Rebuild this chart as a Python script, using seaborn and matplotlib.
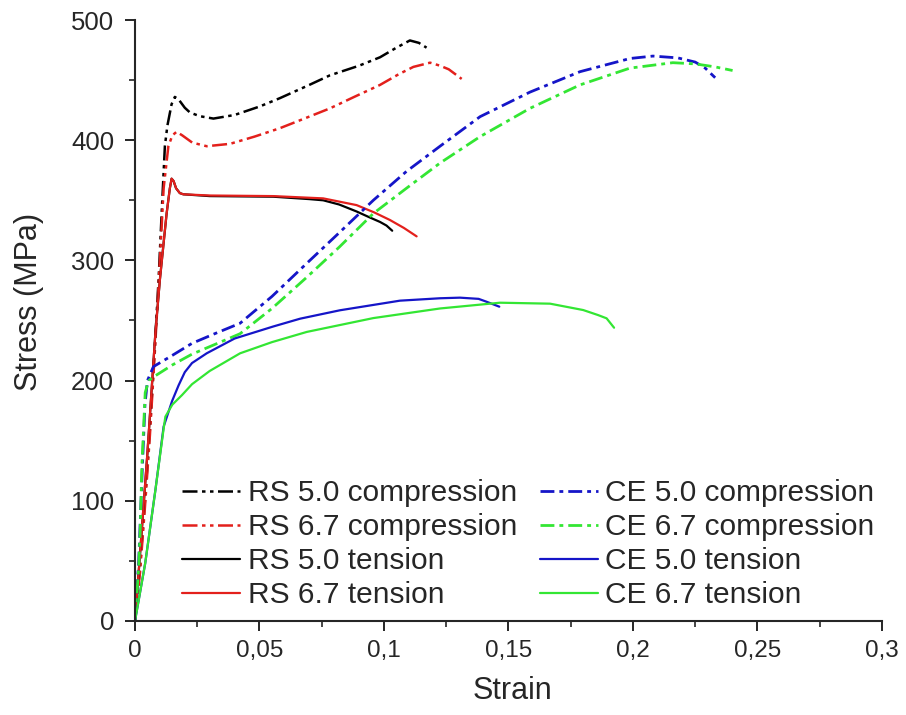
import numpy as np
import pandas as pd
import matplotlib
matplotlib.use("Agg")
import matplotlib.pyplot as plt
import seaborn as sns

# ---------------- data ----------------
rs50c_x = [0, 0.002, 0.004, 0.006, 0.008, 0.0095, 0.0107, 0.0120, 0.0130, 0.0147, 0.0160, 0.0175,
           0.0200, 0.0221, 0.0260, 0.0315, 0.0400, 0.0500, 0.0582, 0.0700, 0.0783, 0.0900, 0.0984,
           0.1050, 0.1104, 0.1140, 0.1171]
rs50c_y = [0, 45, 100, 160, 230, 285, 339, 395, 412, 430, 436, 434,
           427, 423, 420, 418, 421, 428, 435, 446, 454, 462, 469,
           477, 483, 481, 477]

rs67c_x = [0, 0.002, 0.004, 0.006, 0.008, 0.0100, 0.0115, 0.0134, 0.0150, 0.0167, 0.0190, 0.0230,
           0.0288, 0.0382, 0.0480, 0.0582, 0.0680, 0.0783, 0.0880, 0.0984, 0.1060, 0.1118, 0.1185,
           0.1225, 0.1260, 0.1312]
rs67c_y = [0, 40, 95, 155, 225, 300, 360, 395, 404, 407, 404, 398,
           395, 397, 403, 410, 418, 426.5, 436, 446, 455, 461, 464.5,
           462, 459, 451]

rs50t_x = [0, 0.002, 0.005, 0.0082, 0.0100, 0.0127, 0.0140, 0.0147, 0.0155, 0.0165, 0.0180, 0.0194,
           0.0300, 0.0555, 0.0700, 0.0756, 0.0820, 0.0890, 0.0940, 0.0984, 0.1010, 0.1033]
rs50t_y = [0, 55, 140, 240, 284, 339, 360, 368, 366, 360, 356, 355,
           353.5, 353, 351, 350, 346.5, 340.7, 336, 332, 329, 324.7]

rs67t_x = [0, 0.002, 0.005, 0.0082, 0.0100, 0.0127, 0.0140, 0.0147, 0.0155, 0.0165, 0.0180, 0.0194,
           0.0300, 0.0555, 0.0756, 0.0890, 0.0960, 0.1024, 0.1080, 0.1131]
rs67t_y = [0, 55, 140, 240, 284, 339, 360, 368, 366, 360, 356, 355,
           354, 353.5, 351.6, 346, 340, 333.6, 327, 320]

ce50c_x = [0, 0.0015, 0.0028, 0.0040, 0.0050, 0.0074, 0.0150, 0.0229, 0.0320, 0.0422, 0.0550, 0.0690,
           0.0820, 0.0957, 0.1090, 0.1225, 0.1386, 0.1586, 0.1787, 0.1988, 0.2080, 0.2180, 0.2250,
           0.2290, 0.2330]
ce50c_y = [0, 50, 120, 180, 200, 211.6, 221, 231, 239, 247.7, 270, 297.6,
           323, 350, 374, 395, 419.6, 440, 457, 468, 470, 468.5, 465,
           460, 452]

ce67c_x = [0, 0.0015, 0.0021, 0.0028, 0.0041, 0.0055, 0.0074, 0.0150, 0.0229, 0.0320, 0.0422, 0.0550,
           0.0690, 0.0820, 0.0957, 0.1090, 0.1225, 0.1386, 0.1586, 0.1787, 0.1988, 0.2160, 0.2250,
           0.2330, 0.2400]
ce67c_y = [0, 45, 76, 131, 190, 200, 203, 213, 222, 230, 239, 260,
           286, 311, 339, 360, 381, 403, 426.5, 446, 460, 464.5, 463.5,
           461, 458]

ce50t_x = [0, 0.0041, 0.0082, 0.0115, 0.0149, 0.0175, 0.0200, 0.0229, 0.0288, 0.0400, 0.0555, 0.0663,
           0.0823, 0.1064, 0.1225, 0.1305, 0.1380, 0.1412, 0.1463]
ce50t_y = [0, 48, 109, 161.7, 183, 196, 207, 214.6, 222.7, 235, 245, 251.5,
           258.5, 266.5, 268.5, 269, 268, 265.6, 261.5]

ce67t_x = [0, 0.0041, 0.0082, 0.0115, 0.0122, 0.0150, 0.0189, 0.0229, 0.0300, 0.0422, 0.0550, 0.0690,
           0.0957, 0.1225, 0.1466, 0.1667, 0.1800, 0.1860, 0.1894, 0.1924]
ce67t_y = [0, 48, 109, 160, 170, 180, 188, 197, 208, 222.7, 232, 240.5,
           252, 260, 264.8, 264, 258.7, 254.5, 251.8, 244]

labels = ["RS 5.0 compression", "RS 6.7 compression", "RS 5.0 tension", "RS 6.7 tension",
          "CE 5.0 compression", "CE 6.7 compression", "CE 5.0 tension", "CE 6.7 tension"]
xtick_vals = [0, 0.05, 0.1, 0.15, 0.2, 0.25, 0.3]
xtick_labels = ["0", "0,05", "0,1", "0,15", "0,2", "0,25", "0,3"]
ytick_vals = [0, 100, 200, 300, 400, 500]

series = [
    (rs50c_x, rs50c_y), (rs67c_x, rs67c_y), (rs50t_x, rs50t_y), (rs67t_x, rs67t_y),
    (ce50c_x, ce50c_y), (ce67c_x, ce67c_y), (ce50t_x, ce50t_y), (ce67t_x, ce67t_y),
]

# ---------------- styling ----------------
colors = ["#000000", "#e3201c", "#000000", "#e3201c", "#1515c8", "#33e633", "#1515c8", "#33e633"]
dashdotdot = (0, (6, 1.8, 1.4, 1.8, 1.4, 1.8))
dashdot = (0, (5, 1.8, 1.4, 1.8))
styles = [dashdotdot, dashdotdot, "-", "-", dashdot, dashdot, "-", "-"]
widths = [1.8, 1.8, 1.6, 1.6, 2.0, 2.0, 1.6, 1.6]

sns.set_style("ticks")
plt.rcParams["font.family"] = ["Liberation Sans", "DejaVu Sans"]

fig = plt.figure(figsize=(9.06, 7.15), dpi=100)
ax = fig.add_axes([0.149, 0.1315, 0.8245, 0.8405])

frames = []
for lab, (xs, ys) in zip(labels, series):
    frames.append(pd.DataFrame({"Strain": xs, "Stress": ys, "series": lab}))
df = pd.concat(frames, ignore_index=True)

for lab, c, ls, lw in zip(labels, colors, styles, widths):
    sub = df[df["series"] == lab]
    sns.lineplot(data=sub, x="Strain", y="Stress", ax=ax, color=c, linestyle=ls,
                 linewidth=lw, sort=False, estimator=None, label=lab)

ax.set_xlim(0, 0.3)
ax.set_ylim(0, 500)
ax.set_xticks(xtick_vals)
ax.set_xticklabels(xtick_labels)
ax.set_yticks(ytick_vals)
ax.set_xticks(np.arange(0.025, 0.3, 0.05), minor=True)
ax.set_yticks(np.arange(50, 500, 100), minor=True)
ax.tick_params(axis="both", which="major", direction="out", length=7, width=1.4)
ax.tick_params(axis="x", which="major", labelsize=17.5, pad=7)
ax.tick_params(axis="y", which="major", labelsize=18.5, pad=8)
ax.tick_params(axis="both", which="minor", direction="out", length=4, width=1.2)
for s in ["top", "right"]:
    ax.spines[s].set_visible(False)
for s in ["left", "bottom"]:
    ax.spines[s].set_linewidth(1.5)

ax.set_xlabel("Strain", fontsize=22)
ax.set_ylabel("Stress (MPa)", fontsize=22)
ax.xaxis.set_label_coords(0.505, -0.092)
ax.xaxis.label.set_va("top")
ax.yaxis.set_label_coords(-0.122, 0.531)

handles, labs = ax.get_legend_handles_labels()
ax.legend(handles, labs, ncol=2, loc="lower left", bbox_to_anchor=(0.063, 0.02),
          frameon=False, fontsize=21.5, handlelength=1.95, handletextpad=0.25,
          labelspacing=0.2, columnspacing=0.75, borderpad=0, borderaxespad=0)

fig.savefig("out.png", dpi=100)
